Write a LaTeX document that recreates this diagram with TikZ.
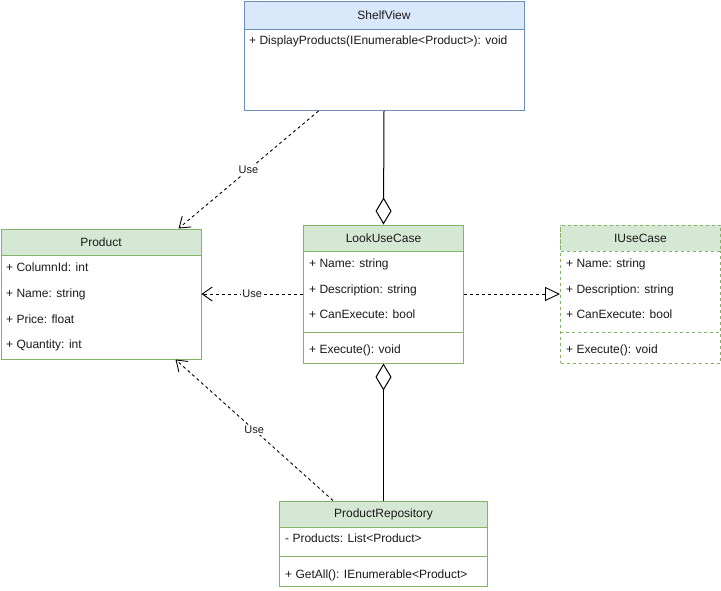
\documentclass[tikz,border=0pt]{standalone}
\usepackage{fontspec}
\setmainfont{Liberation Sans}
\usetikzlibrary{arrows.meta}
\definecolor{gfill}{HTML}{D5E8D4}
\definecolor{gline}{HTML}{82B366}
\definecolor{bfill}{HTML}{DAE8FC}
\definecolor{bline}{HTML}{6C8EBF}
\definecolor{txt}{HTML}{1A1A1A}
\tikzset{
  classbox/.style={draw=#1, line width=1pt, anchor=north west, inner sep=0pt, fill=white},
  classhead/.style={draw=#1, line width=1pt, anchor=north west, inner sep=0pt, text=txt},
  row/.style={anchor=west, inner sep=0pt, text=txt, text height=8.6pt, text depth=2.6pt},
  divider/.style={draw=#1, line width=1pt},
  dep/.style={line width=0.9pt, dash pattern=on 3pt off 3pt, -{Straight Barb[length=10pt,width=14pt,line width=0.9pt]}},
  agg/.style={line width=1pt, {Diamond[open,length=27pt,width=16pt,fill=white,line width=1pt]}-},
  real/.style={line width=0.9pt, dash pattern=on 3pt off 3pt, -{Triangle[open,length=15pt,width=14pt,fill=white,line width=0.9pt]}},
  lbl/.style={fill=white, inner sep=1pt, font=\fontsize{11}{13}\selectfont, text=txt},
}
\begin{document}
\begin{tikzpicture}[x=1pt,y=-1pt, font=\fontsize{12}{14}\selectfont]
\useasboundingbox (0,0) rectangle (721,590);

% ShelfView
\node[classbox=bline, minimum width=280pt, minimum height=109.5pt] (shelf) at (243.5,0.5) {};
\node[classhead=bline, fill=bfill, minimum width=280pt, minimum height=28pt] (shelfh) at (243.5,0.5) {ShelfView};
\node[row] (shelf1) at (249,41) {+ DisplayProducts(IEnumerable<Product>): void};

% Product
\node[classbox=gline, minimum width=200pt, minimum height=130pt] (product) at (0.5,228.5) {};
\node[classhead=gline, fill=gfill, minimum width=200pt, minimum height=26pt] (producth) at (0.5,228.5) {Product};
\node[row] (p1) at (6,268) {+ ColumnId: int};
\node[row] (p2) at (6,294) {+ Name: string};
\node[row] (p3) at (6,320) {+ Price: float};
\node[row] (p4) at (6,345) {+ Quantity: int};

% LookUseCase
\node[classbox=gline, minimum width=160pt, minimum height=138pt] (look) at (303,224.5) {};
\node[classhead=gline, fill=gfill, minimum width=160pt, minimum height=26pt] (lookh) at (303,224.5) {LookUseCase};
\node[row] (l1) at (309,264) {+ Name: string};
\node[row] (l2) at (309,290) {+ Description: string};
\node[row] (l3) at (309,315) {+ CanExecute: bool};
\draw[divider=gline] (look.west |- 0,332) -- (look.east |- 0,332);
\node[row] (l4) at (309,350) {+ Execute(): void};

% IUseCase
\node[classbox=gline, dash pattern=on 3pt off 3pt, minimum width=160pt, minimum height=138pt] (iuse) at (560,224.5) {};
\node[classhead=gline, dash pattern=on 3pt off 3pt, fill=gfill, minimum width=160pt, minimum height=26pt] (iuseh) at (560,224.5) {IUseCase};
\node[row] (i1) at (566,264) {+ Name: string};
\node[row] (i2) at (566,290) {+ Description: string};
\node[row] (i3) at (566,315) {+ CanExecute: bool};
\draw[divider=gline, dash pattern=on 3pt off 3pt] (iuse.west |- 0,332) -- (iuse.east |- 0,332);
\node[row] (i4) at (566,350) {+ Execute(): void};

% ProductRepository
\node[classbox=gline, minimum width=208pt, minimum height=85pt] (repo) at (279,500.5) {};
\node[classhead=gline, fill=gfill, minimum width=208pt, minimum height=26pt] (repoh) at (279,500.5) {ProductRepository};
\node[row] (r1) at (285,539) {- Products: List<Product>};
\draw[divider=gline] (repo.west |- 0,556) -- (repo.east |- 0,556);
\node[row] (r2) at (285,575) {+ GetAll(): IEnumerable<Product>};

% Connectors
\draw[dep] ([xshift=75pt]shelf.south west) -- node[lbl] {Use} ([xshift=178pt]product.north west);
\draw[agg] (look.north) -- (shelf.south);
\draw[dep] (look.west) -- node[lbl] {Use} (product.east);
\draw[real] (look.east) -- (iuse.west);
\draw[agg] (look.south) -- (repo.north);
\draw[dep] ([xshift=54pt]repo.north west) -- node[lbl] {Use} ([xshift=175pt]product.south west);
\end{tikzpicture}
\end{document}
